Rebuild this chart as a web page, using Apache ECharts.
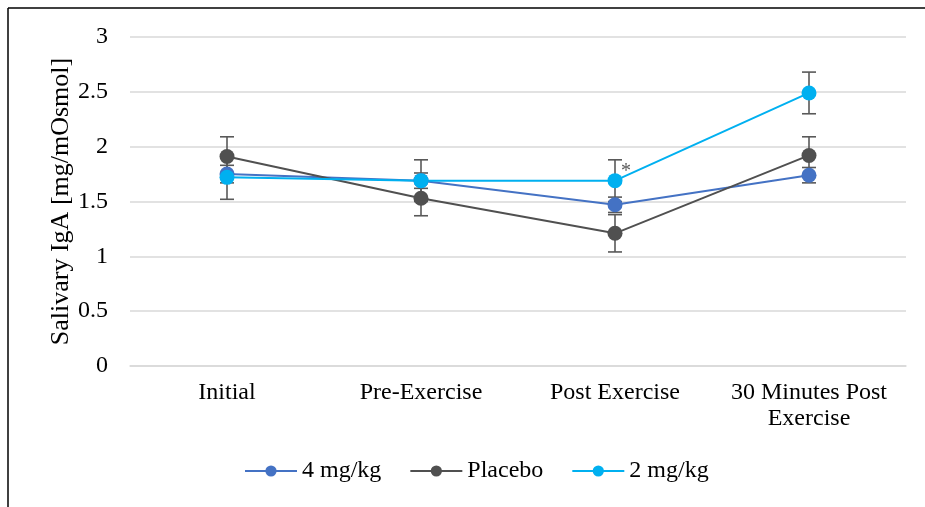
<!DOCTYPE html>
<html><head><meta charset="utf-8">
<script src="https://cdn.jsdelivr.net/npm/echarts@6/dist/echarts.min.js"></script>
<style>html,body{margin:0;padding:0;background:#fff}#c{width:925px;height:507px}</style>
</head><body><div id="c"></div>
<script>
const categories = ['Initial', 'Pre-Exercise', 'Post Exercise', '30 Minutes Post\nExercise'];
const yTicks = [0, 0.5, 1, 1.5, 2, 2.5, 3];
const mg4 = [1.75, 1.69, 1.47, 1.74];
const mg4Err = [0.08, 0.07, 0.07, 0.07];
const placebo = [1.91, 1.53, 1.21, 1.92];
const placeboErr = [0.18, 0.16, 0.17, 0.17];
const mg2 = [1.72, 1.69, 1.69, 2.49];
const mg2Err = [0.20, 0.19, 0.19, 0.19];
const seriesNames = ['4 mg/kg', 'Placebo', '2 mg/kg'];
const colors = ['#4472C4', '#505050', '#00B0F0'];
const font = 'Liberation Serif';

function errSeries(vals, errs) {
  return {
    type: 'custom', z: 1, silent: true,
    data: vals.map((v, i) => [i, v - errs[i], v + errs[i]]),
    renderItem: function (params, api) {
      const lo = api.coord([api.value(0), api.value(1)]);
      const hi = api.coord([api.value(0), api.value(2)]);
      const w = 7;
      const st = { stroke: '#595959', lineWidth: 1.6 };
      return { type: 'group', children: [
        { type: 'line', shape: { x1: lo[0], y1: lo[1], x2: hi[0], y2: hi[1] }, style: st },
        { type: 'line', shape: { x1: lo[0] - w, y1: lo[1], x2: lo[0] + w, y2: lo[1] }, style: st },
        { type: 'line', shape: { x1: hi[0] - w, y1: hi[1], x2: hi[0] + w, y2: hi[1] }, style: st }
      ]};
    }
  };
}
function lineSeries(name, vals, color, extra) {
  return Object.assign({
    name: name, type: 'line', data: vals, z: 3,
    symbol: 'circle', symbolSize: 15,
    lineStyle: { color: color, width: 2 },
    itemStyle: { color: color },
    emphasis: { disabled: true }
  }, extra || {});
}
const chart = echarts.init(document.getElementById('c'));
chart.setOption({
  animation: false,
  textStyle: { fontFamily: font },
  grid: { left: 130, right: 19, top: 37, bottom: 141 },
  legend: {
    top: 454, left: 239, itemWidth: 52, itemHeight: 14, itemGap: 28,
    data: seriesNames,
    textStyle: { fontFamily: font, fontSize: 24, color: '#000' }
  },
  xAxis: {
    type: 'category', data: categories, boundaryGap: true,
    axisLine: { lineStyle: { color: '#d9d9d9', width: 1.5 } },
    axisTick: { show: false },
    axisLabel: { fontFamily: font, fontSize: 24, color: '#000', margin: 14, lineHeight: 26, interval: 0 }
  },
  yAxis: {
    type: 'value', min: yTicks[0], max: yTicks[yTicks.length - 1], interval: 0.5,
    name: 'Salivary IgA [mg/mOsmol]', nameLocation: 'middle', nameGap: 56, nameMoveOverlap: false,
    nameTextStyle: { fontFamily: font, fontSize: 26, color: '#000' },
    axisLine: { show: false }, axisTick: { show: false },
    axisLabel: { fontFamily: font, fontSize: 24, color: '#000', margin: 22 },
    splitLine: { lineStyle: { color: '#d9d9d9', width: 1.5 } }
  },
  graphic: [
    { type: 'line', shape: { x1: 8, y1: 8, x2: 925, y2: 8 }, style: { stroke: '#000', lineWidth: 1.5 } },
    { type: 'line', shape: { x1: 8, y1: 8, x2: 8, y2: 507 }, style: { stroke: '#000', lineWidth: 1.5 } }
  ],
  series: [
    errSeries(mg4, mg4Err),
    errSeries(placebo, placeboErr),
    errSeries(mg2, mg2Err),
    lineSeries(seriesNames[0], mg4, colors[0]),
    lineSeries(seriesNames[1], placebo, colors[1]),
    lineSeries(seriesNames[2], mg2, colors[2], {
      markPoint: {
        symbol: 'circle', symbolSize: 0, silent: true,
        data: [{ coord: [2, mg2[2]], value: '*' }],
        label: { show: true, formatter: '*', color: '#595959', fontFamily: font, fontSize: 20, offset: [11, -9] }
      }
    })
  ]
});
</script></body></html>
